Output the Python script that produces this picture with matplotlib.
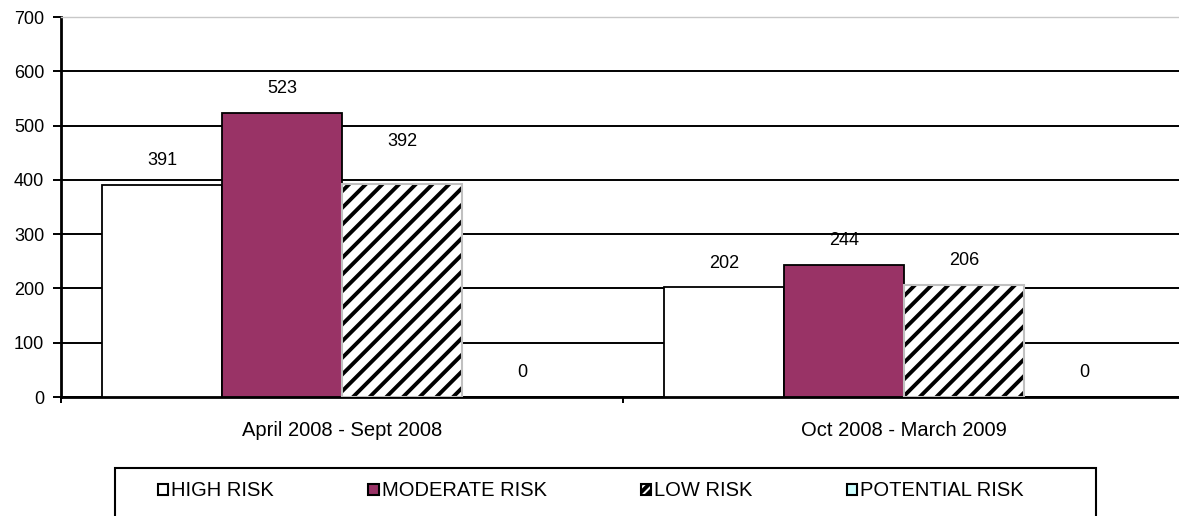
import numpy as np
import matplotlib
matplotlib.use("Agg")
import matplotlib.pyplot as plt
from matplotlib.patches import Patch, Rectangle

plt.rcParams['font.family'] = ['Liberation Sans', 'DejaVu Sans']
plt.rcParams['hatch.linewidth'] = 2.8

# data
periods = ["April 2008 - Sept 2008", "Oct 2008 - March 2009"]
series = ["HIGH RISK", "MODERATE RISK", "LOW RISK", "POTENTIAL RISK"]
high_risk = [391, 202]
moderate_risk = [523, 244]
low_risk = [392, 206]
potential_risk = [0, 0]
yticks = [0, 100, 200, 300, 400, 500, 600, 700]

values = [high_risk, moderate_risk, low_risk, potential_risk]
faces = ["white", "#993366", "white", "#CCFFFF"]
edges = ["black", "black", "#C0C0C0", "black"]
hatches = [None, None, "//", None]

fig = plt.figure(figsize=(11.79, 5.16), dpi=100)
ax = fig.add_axes([61 / 1179, 1 - 397 / 516, 1124 / 1179, 380 / 516])

x = np.arange(len(periods))
w = 120 / 562
offsets = (np.arange(4) - 1.5) * w

for i in range(4):
    xs = x + offsets[i]
    if hatches[i]:
        ax.bar(xs, values[i], w, color="white", edgecolor="black",
               hatch=hatches[i], linewidth=0, zorder=3)
        ax.bar(xs, values[i], w, fill=False, edgecolor=edges[i],
               linewidth=1.5, zorder=4)
    else:
        ax.bar(xs, values[i], w, color=faces[i], edgecolor=edges[i],
               linewidth=1.3, zorder=3)
    for j, v in enumerate(values[i]):
        extra = 13 if (i == 2 and j == 0) else 0  # excel nudged this one up
        ax.annotate(str(v), (xs[j], v), xytext=(0, 17.5 + extra),
                    textcoords="offset points", ha="center", va="center",
                    fontsize=13, zorder=5)

ax.set_xlim(-0.5, 1.5)
ax.set_ylim(0, 700)
ax.set_yticks(yticks)
ax.yaxis.grid(True, color="black", linewidth=1.4)
ax.set_axisbelow(True)
ax.tick_params(axis="y", direction="out", length=6, width=1.4, pad=6,
               labelsize=13)

ax.set_xticks(x)
ax.set_xticklabels(periods)
ax.set_xticks([-0.5, 0.5, 1.5], minor=True)
ax.tick_params(axis="x", which="major", length=0, pad=17, labelsize=14.5)
ax.tick_params(axis="x", which="minor", direction="out", length=4.5, width=1.4)

for s in ["left", "bottom"]:
    ax.spines[s].set_linewidth(2)
ax.spines["top"].set_color("#C8C8C8")
ax.spines["top"].set_linewidth(1)
ax.spines["right"].set_visible(False)

# legend with separate box
fig.patches.append(Rectangle((115 / 1179, -0.05), (1096 - 115) / 1179,
                             (516 - 468) / 516 + 0.05, transform=fig.transFigure,
                             fill=False, edgecolor="black", linewidth=1.5))
handles = [Patch(facecolor=faces[i], edgecolor=edges[i] if i != 2 else "black",
                 hatch=("////" if i == 2 else None), linewidth=1.5)
           for i in range(4)]
fig.legend(handles, series, loc="center left",
           bbox_to_anchor=(158 / 1179, 1 - 491 / 516), ncol=4, frameon=False,
           fontsize=14.5, handlelength=0.5, handleheight=0.5,
           handletextpad=0.15, columnspacing=4.7, borderpad=0,
           borderaxespad=0)

fig.savefig("out.png", dpi=100)
